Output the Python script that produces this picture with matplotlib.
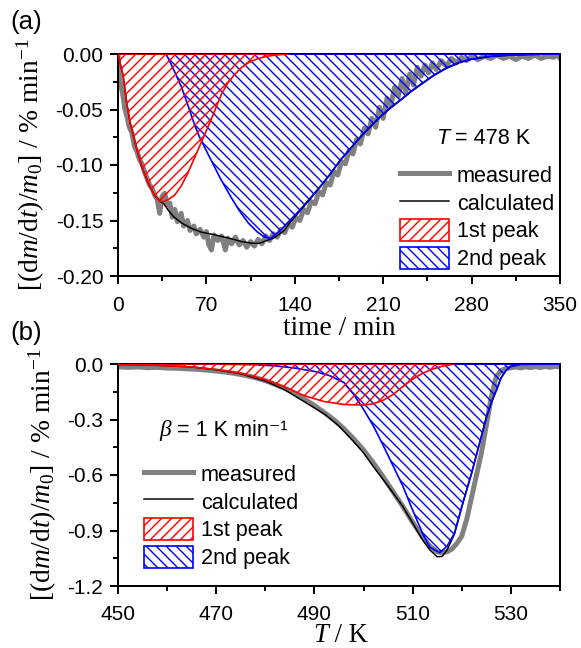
import matplotlib
matplotlib.use("Agg")
import matplotlib.pyplot as plt
from matplotlib.lines import Line2D
from matplotlib.patches import Patch
from matplotlib.ticker import MultipleLocator, FormatStrFormatter

plt.rcParams['font.family'] = ['Liberation Sans', 'DejaVu Sans']
plt.rcParams['mathtext.fontset'] = 'custom'
plt.rcParams['mathtext.rm'] = 'Liberation Serif'
plt.rcParams['mathtext.it'] = 'Liberation Serif:italic'
plt.rcParams['axes.unicode_minus'] = False
plt.rcParams['hatch.linewidth'] = 0.85

# ---------------- panel (a): isothermal, T = 478 K ----------------
t_red = [0, 2, 4, 7, 10, 14, 19, 24, 29, 33, 36, 40, 45, 50, 55, 61, 65, 69, 73, 77,
         82, 87, 92, 97, 103, 110, 118, 126, 135]
a_red = [0.0, -0.010, -0.019, -0.045, -0.064, -0.082, -0.102, -0.1165, -0.1275, -0.1325,
         -0.133, -0.131, -0.127, -0.119, -0.108, -0.0925, -0.082, -0.0715, -0.061, -0.050,
         -0.036, -0.026, -0.019, -0.013, -0.008, -0.0045, -0.002, -0.0008, 0.0]

t_blue = [38, 42, 46, 50, 55, 61, 65, 69, 73, 77, 81, 85, 90, 96, 103, 110, 116, 121, 128,
          136, 144, 152, 160, 168, 176, 184, 192, 200, 208, 216, 224, 232, 240, 250, 260,
          270, 280, 295, 310, 330, 350]
a_blue = [0.0, -0.009, -0.019, -0.029, -0.045, -0.065, -0.076, -0.085, -0.094, -0.103,
          -0.112, -0.120, -0.130, -0.141, -0.152, -0.160, -0.165, -0.166, -0.1595, -0.150,
          -0.1405, -0.130, -0.1195, -0.108, -0.0955, -0.085, -0.0745, -0.065, -0.056, -0.048,
          -0.041, -0.0335, -0.027, -0.019, -0.0125, -0.0075, -0.0045, -0.002, -0.001,
          -0.0003, 0.0]

t_calc = [0, 2, 4, 7, 10, 14, 19, 24, 29, 33, 36, 40, 44, 50, 58, 66, 77, 88, 98, 106,
          112, 118, 123, 128, 132, 136, 144, 152, 160, 168, 176, 184, 192, 200, 208, 216,
          224, 232, 240, 250, 260, 270, 280, 295, 310, 330, 350]
a_calc = [0.0, -0.010, -0.019, -0.045, -0.064, -0.082, -0.102, -0.1165, -0.1275, -0.1325,
          -0.1345, -0.141, -0.1465, -0.152, -0.157, -0.1605, -0.163, -0.166, -0.169, -0.1705,
          -0.1705, -0.168, -0.166, -0.162, -0.1585, -0.152, -0.1415, -0.131, -0.120, -0.1085,
          -0.096, -0.0855, -0.075, -0.0655, -0.0565, -0.0485, -0.0415, -0.034, -0.0275,
          -0.0195, -0.013, -0.008, -0.0048, -0.0022, -0.0011, -0.0004, 0.0]

t_meas = [0, 1, 2, 4, 5.5, 7, 9, 11, 13, 15, 17, 19, 21, 23, 25, 27, 29, 31, 33, 35, 37,
          39, 41, 43, 45, 47, 50, 52, 55, 57, 60, 62, 65, 68, 70, 72, 74, 76, 79, 82, 85,
          87, 90, 93, 96, 99, 102, 105, 108, 111, 114, 117, 120, 123, 126, 129, 132, 135,
          138, 141, 144, 147, 150, 153, 156, 159, 162, 165, 168, 171, 174, 177, 180, 183,
          186, 189, 192, 195, 198, 201, 204, 207, 210, 213, 216, 219, 222, 225, 228, 231,
          234, 237, 240, 243, 246, 249, 252, 256, 260, 264, 268, 272, 276, 280, 285, 290,
          295, 300, 305, 310, 315, 320, 325, 330, 335, 340, 345, 348, 350]
a_meas = [-0.002, -0.018, -0.026, -0.038, -0.050, -0.056, -0.066, -0.071, -0.083, -0.088,
          -0.095, -0.099, -0.106, -0.112, -0.118, -0.121, -0.127, -0.131, -0.1435, -0.128,
          -0.1255, -0.136, -0.1345, -0.147, -0.140, -0.151, -0.1435, -0.155, -0.150, -0.159,
          -0.155, -0.162, -0.158, -0.165, -0.160, -0.172, -0.1765, -0.163, -0.168, -0.164,
          -0.1765, -0.166, -0.171, -0.165, -0.172, -0.168, -0.174, -0.169, -0.173, -0.167,
          -0.171, -0.164, -0.168, -0.162, -0.165, -0.158, -0.161, -0.153, -0.156, -0.147,
          -0.150, -0.140, -0.143, -0.133, -0.135, -0.124, -0.127, -0.116, -0.118, -0.106,
          -0.109, -0.097, -0.099, -0.087, -0.090, -0.077, -0.081, -0.067, -0.072, -0.058,
          -0.066, -0.048, -0.058, -0.040, -0.047, -0.030, -0.038, -0.022, -0.034, -0.018,
          -0.028, -0.012, -0.020, -0.010, -0.017, -0.008, -0.014, -0.006, -0.011, -0.004,
          -0.008, -0.003, -0.006, -0.002, -0.005, -0.002, -0.004, -0.001, -0.004, -0.002,
          -0.005, -0.002, -0.004, -0.001, -0.004, -0.002, -0.003, -0.001, -0.004]

a_xticks = [0, 70, 140, 210, 280, 350]
a_yticks = [0.00, -0.05, -0.10, -0.15, -0.20]

# ---------------- panel (b): non-isothermal, beta = 1 K/min ----------------
T_red = [450, 455, 460, 465, 470, 475, 480, 484, 488, 492, 496, 500, 502, 504, 506, 508,
         510, 512, 514, 516, 518.5]
b_red = [-0.003, -0.005, -0.009, -0.016, -0.030, -0.050, -0.085, -0.125, -0.172, -0.203,
         -0.219, -0.222, -0.215, -0.196, -0.165, -0.122, -0.082, -0.050, -0.028, -0.012, 0.0]

T_blue = [450, 470, 478, 482, 486, 490, 493, 496, 498, 500, 502, 504, 506, 508, 510, 512,
          513.5, 515.5, 517, 518.5, 520, 521, 522, 523, 524, 525, 526, 527, 528, 529, 530,
          532, 540]
b_blue = [0.0, -0.001, -0.004, -0.010, -0.022, -0.040, -0.062, -0.100, -0.165, -0.245,
          -0.335, -0.440, -0.550, -0.660, -0.790, -0.915, -0.990, -1.020, -0.985, -0.915,
          -0.770, -0.680, -0.590, -0.490, -0.390, -0.290, -0.210, -0.145, -0.075, -0.035,
          -0.013, -0.002, 0.0]

T_calc = [450, 455, 460, 465, 470, 475, 480, 484, 488, 492, 495, 498, 500, 502, 505, 508,
          510, 512, 513.5, 515, 516, 517, 518.5, 520, 521, 522, 523, 524, 525, 526, 527,
          528, 529, 530, 532, 540]
b_calc = [-0.003, -0.005, -0.009, -0.016, -0.031, -0.053, -0.092, -0.140, -0.205, -0.270,
          -0.335, -0.420, -0.480, -0.555, -0.660, -0.770, -0.860, -0.950, -1.005, -1.042,
          -1.040, -1.005, -0.920, -0.775, -0.680, -0.590, -0.490, -0.390, -0.290, -0.210,
          -0.145, -0.075, -0.035, -0.013, -0.002, 0.0]

T_meas = [450, 452, 454, 456, 458, 460, 462, 464, 466, 468, 470, 472, 474, 476, 478, 480,
          482, 484, 486, 488, 490, 492, 494, 496, 498, 500, 502, 504, 506, 508, 510, 512,
          513.5, 515, 516, 517, 518, 519, 520, 521, 522, 523, 524, 525, 526, 527, 528, 529,
          530, 531, 532, 533, 534, 535, 536, 537, 538, 539, 540]
b_meas = [-0.015, -0.018, -0.016, -0.020, -0.018, -0.022, -0.023, -0.026, -0.028, -0.033,
          -0.038, -0.044, -0.052, -0.062, -0.074, -0.090, -0.110, -0.132, -0.158, -0.190,
          -0.225, -0.262, -0.302, -0.350, -0.405, -0.465, -0.535, -0.610, -0.690, -0.770,
          -0.855, -0.935, -0.985, -1.015, -1.020, -1.015, -1.000, -0.970, -0.930, -0.840,
          -0.720, -0.600, -0.480, -0.330, -0.180, -0.070, -0.035, -0.024, -0.020, -0.016,
          -0.021, -0.015, -0.020, -0.014, -0.019, -0.013, -0.018, -0.012, -0.016]

b_xticks = [450, 470, 490, 510, 530]
b_yticks = [0.0, -0.3, -0.6, -0.9, -1.2]

# ---------------- figure ----------------
DPI = 120
fig = plt.figure(figsize=(581 / DPI, 648 / DPI), dpi=DPI)
ax1 = fig.add_axes([118 / 581, 1 - 276 / 648, 442 / 581, 222 / 648])
ax2 = fig.add_axes([118 / 581, 1 - 586 / 648, 442 / 581, 222 / 648])

ylab = r'$[(\mathrm{d}m/\mathrm{d}t)/m_0]$ / % min$^{-1}$'
GRAY = '#808080'
H_RED = '////'
H_BLUE = '\\\\\\\\'


def style(ax, xpad):
    for s in ax.spines.values():
        s.set_linewidth(1.2)
    ax.tick_params(which='major', direction='out', length=4.8, width=1.2,
                   labelsize=12.5, top=False, right=False)
    ax.tick_params(which='minor', direction='out', length=3, width=1.2,
                   top=False, right=False)
    ax.tick_params(axis='x', which='major', pad=xpad)
    ax.tick_params(axis='y', which='major', pad=4)


def legend(ax, anchor):
    handles = [Line2D([], [], color=GRAY, lw=3),
               Line2D([], [], color='black', lw=0.9),
               Patch(facecolor='white', edgecolor='red', hatch=H_RED, lw=1.0),
               Patch(facecolor='white', edgecolor='blue', hatch=H_BLUE, lw=1.0)]
    labels = ['measured', 'calculated', '1st peak', '2nd peak']
    ax.legend(handles, labels, loc='upper left', bbox_to_anchor=anchor,
              frameon=False, fontsize=13, handlelength=2.26, handleheight=1.15,
              handletextpad=0.37, labelspacing=0.22, borderpad=0, borderaxespad=0)


# panel (a)
ax1.plot(t_meas, a_meas, color=GRAY, lw=3, zorder=1)
ax1.plot(t_calc, a_calc, color='black', lw=0.9, zorder=2)
ax1.fill_between(t_blue, a_blue, 0, facecolor='none', edgecolor='blue', hatch=H_BLUE,
                 lw=1.0, zorder=3)
ax1.fill_between(t_red, a_red, 0, facecolor='none', edgecolor='red', hatch=H_RED,
                 lw=1.0, zorder=4)
ax1.set_xlim(0, 350)
ax1.set_ylim(-0.20, 0.0)
ax1.set_xticks(a_xticks)
ax1.set_yticks(a_yticks)
ax1.xaxis.set_minor_locator(MultipleLocator(35))
ax1.yaxis.set_minor_locator(MultipleLocator(0.025))
ax1.yaxis.set_major_formatter(FormatStrFormatter('%.2f'))
style(ax1, 7)
ax1.set_xlabel('time / min', family='Liberation Serif', fontsize=16.5, labelpad=1)
ax1.set_ylabel(ylab, family='Liberation Serif', fontsize=16.5, labelpad=5)
ax1.text(262, -0.0757, 'T', style='italic', fontsize=13, ha='right', va='center')
ax1.text(262, -0.0757, ' = 478 K', fontsize=13, ha='left', va='center')
legend(ax1, (0.638, 0.506))

# panel (b)
ax2.plot(T_meas, b_meas, color=GRAY, lw=3, zorder=1)
ax2.plot(T_calc, b_calc, color='black', lw=0.9, zorder=2)
ax2.fill_between(T_blue, b_blue, 0, facecolor='none', edgecolor='blue', hatch=H_BLUE,
                 lw=1.0, zorder=3)
ax2.fill_between(T_red, b_red, 0, facecolor='none', edgecolor='red', hatch=H_RED,
                 lw=1.0, zorder=4)
ax2.set_xlim(450, 540)
ax2.set_ylim(-1.2, 0.0)
ax2.set_xticks(b_xticks)
ax2.set_yticks(b_yticks)
ax2.xaxis.set_minor_locator(MultipleLocator(10))
ax2.yaxis.set_minor_locator(MultipleLocator(0.15))
ax2.yaxis.set_major_formatter(FormatStrFormatter('%.1f'))
style(ax2, 6.5)
ax2.set_ylabel(ylab, family='Liberation Serif', fontsize=16.5, labelpad=5)
ax2.text(460.8, -0.362, 'β', family=['Liberation Serif', 'DejaVu Serif'], style='italic',
         fontsize=14, ha='right', va='center')
ax2.text(460.8, -0.362, ' = 1 K min\u207b\u00b9', family=['Liberation Sans', 'DejaVu Sans'],
         fontsize=13, ha='left', va='center')
legend(ax2, (0.0588, 0.556))

# x label of panel (b) with italic T, drawn in two pieces
ax2.text(0.475, -0.252, 'T', transform=ax2.transAxes, family='Liberation Serif',
         style='italic', fontsize=16, ha='right', va='baseline')
ax2.text(0.475, -0.252, ' / K', transform=ax2.transAxes, family='Liberation Serif',
         fontsize=16, ha='left', va='baseline')

fig.text(10 / 581, 1 - 22 / 648, '(a)', fontsize=15.5, ha='left', va='center')
fig.text(10 / 581, 1 - 333 / 648, '(b)', fontsize=15.5, ha='left', va='center')

fig.savefig('out.png', dpi=DPI)
